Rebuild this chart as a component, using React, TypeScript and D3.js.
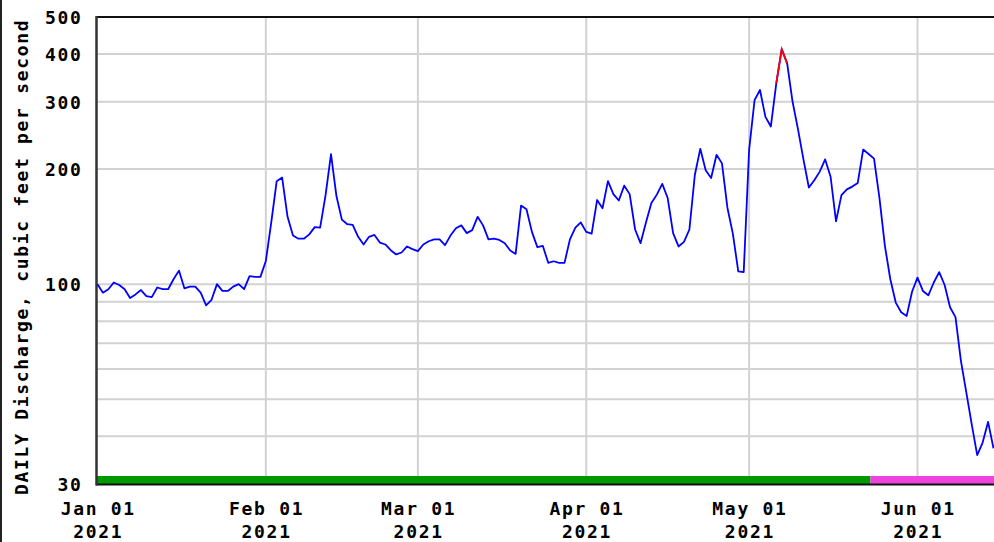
import React, { useEffect, useRef } from 'react';
import * as d3 from 'd3';

// daily mean discharge, cfs, one value per day starting Jan 01 2021
const janFlow = [100, 95, 97, 101, 99.5, 97, 92, 94, 96.5, 93, 92.5, 98, 97, 97, 103, 108.5, 97.5, 98.5, 98.5, 95, 88, 91, 100, 96, 96, 98.5, 100, 97, 105, 104.5, 104.5];
const febFlow = [115, 145, 186, 190, 150, 134, 131.5, 131.5, 135, 141, 140.5, 171, 219, 170, 147.5, 143.5, 143, 133, 127, 133, 134.5, 128.5, 127, 122.7, 119.6, 121, 125.5, 123.5];
const marFlow = [122, 127, 129.5, 131, 131, 126.5, 134, 140, 142.5, 136, 138.5, 150, 142.5, 131, 131.5, 130.5, 128, 122.5, 120, 160.5, 157, 137, 125, 126, 113.7, 114.8, 113.7, 113.7, 131, 140.5, 145];
const aprFlow = [137, 135.5, 166, 158, 186, 172, 165.5, 181, 172, 139, 128, 145, 163, 171.5, 183, 168, 136, 125.5, 129, 139, 193, 226, 198.5, 189.6, 218, 207, 158.5, 135.6, 108, 107.5];
const mayFlow = [225, 303, 322, 274, 258.6, 335, 412, 378, 300, 254, 212, 179, 187, 197, 212, 191, 146, 171, 177, 180, 184, 225, 219, 213, 168, 126, 103, 89.5, 84.4, 82.5, 95.5];
const junFlow = [104, 96, 93.5, 101, 107.5, 99.5, 87, 82, 63, 52, 42.9, 35.7, 38.5, 43.6, 37.2];

// days drawn in red on the hydrograph
const flaggedDays = ['2021-05-06', '2021-05-07', '2021-05-08'];
// data approved up to here, provisional after
const approvedThrough = new Date(2021, 4, 23, 8);

const yLabelValues = [500, 400, 300, 200, 100, 30];
const yGridValues = [400, 300, 200, 100, 90, 80, 70, 60, 50, 40];

const App = () => {
  const ref = useRef(null);

  useEffect(() => {
    const flows = [...janFlow, ...febFlow, ...marFlow, ...aprFlow, ...mayFlow, ...junFlow];
    const fmtDay = d3.timeFormat('%Y-%m-%d');
    const data = flows.map((v, i) => {
      const date = d3.timeDay.offset(new Date(2021, 0, 1), i);
      return { date, value: v, flagged: flaggedDays.includes(fmtDay(date)) };
    });

    const W = 994, H = 542;
    const left = 97, top = 17, bottom = 484;
    const font = "'DejaVu Sans Mono', monospace";

    const root = d3.select(ref.current);
    root.selectAll('*').remove();
    const svg = root.append('svg')
      .attr('width', W)
      .attr('height', H)
      .style('position', 'absolute')
      .style('left', 0)
      .style('top', 0)
      .style('background', '#fff');

    const x = d3.scaleTime()
      .domain([new Date(2021, 0, 1), new Date(2021, 5, 15)])
      .range([97.5, 993.5]);
    const y = d3.scaleLog().domain([30, 500]).range([bottom, top]);

    // outer frame edge
    svg.append('line')
      .attr('x1', 1).attr('x2', 1).attr('y1', 0).attr('y2', H)
      .attr('stroke', '#222').attr('stroke-width', 2);

    // grid
    const months = d3.timeMonth.range(new Date(2021, 0, 1), new Date(2021, 5, 2));
    svg.append('g').selectAll('line')
      .data(months.slice(1))
      .enter().append('line')
      .attr('x1', d => x(d)).attr('x2', d => x(d))
      .attr('y1', top).attr('y2', bottom)
      .attr('stroke', '#d2d2d2').attr('stroke-width', 2);

    svg.append('g').selectAll('line')
      .data(yGridValues)
      .enter().append('line')
      .attr('x1', left).attr('x2', W)
      .attr('y1', d => y(d)).attr('y2', d => y(d))
      .attr('stroke', '#d2d2d2').attr('stroke-width', 2);

    // approval status bar
    svg.append('rect')
      .attr('x', left).attr('y', bottom - 8)
      .attr('width', x(approvedThrough) - left).attr('height', 8)
      .attr('fill', '#009900');
    svg.append('rect')
      .attr('x', x(approvedThrough)).attr('y', bottom - 8)
      .attr('width', W - x(approvedThrough)).attr('height', 8)
      .attr('fill', '#ee44dd');

    // frame
    svg.append('line')
      .attr('x1', left - 1).attr('x2', W).attr('y1', top).attr('y2', top)
      .attr('stroke', '#111').attr('stroke-width', 2);
    svg.append('line')
      .attr('x1', left - 1).attr('x2', W).attr('y1', bottom + 0.5).attr('y2', bottom + 0.5)
      .attr('stroke', '#111').attr('stroke-width', 2);
    svg.append('line')
      .attr('x1', left - 0.5).attr('x2', left - 0.5).attr('y1', top - 1).attr('y2', bottom + 1.5)
      .attr('stroke', '#333').attr('stroke-width', 2.5);

    // discharge line
    const line = d3.line()
      .x(d => x(d.date))
      .y(d => y(d.value));

    svg.append('path')
      .datum(data)
      .attr('fill', 'none')
      .attr('stroke', '#0000ff')
      .attr('stroke-width', 1.8)
      .attr('stroke-linejoin', 'round')
      .attr('d', line);

    svg.append('path')
      .datum(data.filter(d => d.flagged))
      .attr('fill', 'none')
      .attr('stroke', '#ff0000')
      .attr('stroke-width', 1.8)
      .attr('d', line);

    // y labels
    svg.append('g').selectAll('text')
      .data(yLabelValues)
      .enter().append('text')
      .attr('x', 82.5)
      .attr('y', d => y(d) + 7)
      .attr('text-anchor', 'end')
      .attr('font-family', font)
      .attr('font-weight', 'bold')
      .attr('font-size', 18)
      .attr('letter-spacing', 1.7)
      .text(d => d);

    // x labels
    const xl = svg.append('g').selectAll('text')
      .data(months)
      .enter().append('text')
      .attr('text-anchor', 'middle')
      .attr('font-family', font)
      .attr('font-weight', 'bold')
      .attr('font-size', 18)
      .attr('letter-spacing', 1.7);
    xl.append('tspan')
      .attr('x', d => x(d) + 0.8)
      .attr('y', 515)
      .text(d3.timeFormat('%b %d'));
    xl.append('tspan')
      .attr('x', d => x(d) + 0.8)
      .attr('y', 538)
      .text(d3.timeFormat('%Y'));

    // axis title
    svg.append('text')
      .attr('transform', 'translate(28,495) rotate(-90)')
      .attr('font-family', font)
      .attr('font-weight', 'bold')
      .attr('font-size', 18)
      .attr('letter-spacing', 1.7)
      .text('DAILY Discharge, cubic feet per second');
  }, []);

  return <div ref={ref}></div>;
};

export default App;
